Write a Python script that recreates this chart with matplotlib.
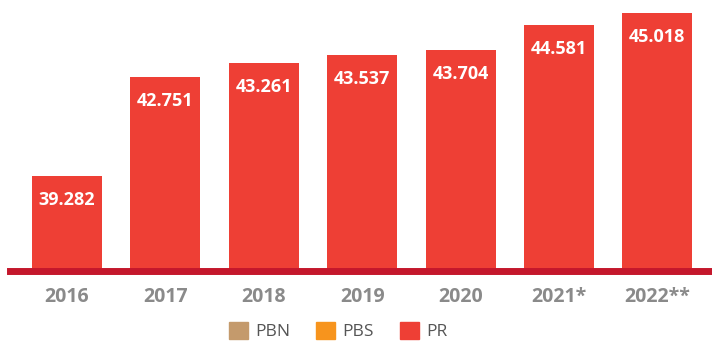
import numpy as np
import matplotlib.pyplot as plt
from matplotlib.patches import Patch

years = ["2016", "2017", "2018", "2019", "2020", "2021*", "2022**"]
pr = [39.282, 42.751, 43.261, 43.537, 43.704, 44.581, 45.018]
labels = ["39.282", "42.751", "43.261", "43.537", "43.704", "44.581", "45.018"]
legend_names = ["PBN", "PBS", "PR"]
legend_colors = ["#C49A6C", "#F7941D", "#EE3F35"]

fig = plt.figure(figsize=(7.12, 3.43), dpi=100, facecolor="white")
ax = fig.add_axes([10/712, 0.2085, 702/712, 0.7915], frameon=False)

x = np.arange(len(years))
ax.bar(x, pr, width=0.71, color="#EE3F35", zorder=2)
ax.set_xlim(-0.579, 6.555)
ax.set_ylim(35.922, 45.475)

# dark base line
ax.axhline(35.922, color="#C4172C", lw=5.0, clip_on=False, zorder=3)

for xi, v, lab in zip(x, pr, labels):
    ax.annotate(lab, (xi, v), xytext=(0, -17), textcoords="offset points",
                ha="center", va="center", color="white", fontsize=13,
                fontweight="bold", family="Open Sans")

ax.set_yticks([])
ax.set_xticks(x)
ax.set_xticklabels(years, fontsize=14, fontweight="bold", color="#8a8a8a",
                   family="Open Sans")
ax.tick_params(axis="x", length=0, pad=11)

handles = [Patch(color=c) for c in legend_colors]
fig.legend(handles, legend_names, loc="center", bbox_to_anchor=(0.475, 0.035),
           ncol=3, frameon=False, handlelength=1.1, handleheight=1.1,
           handletextpad=0.4, columnspacing=1.5,
           prop={"family": "Open Sans", "size": 12.5}, labelcolor="#555555")

fig.savefig("out.png", dpi=100)
